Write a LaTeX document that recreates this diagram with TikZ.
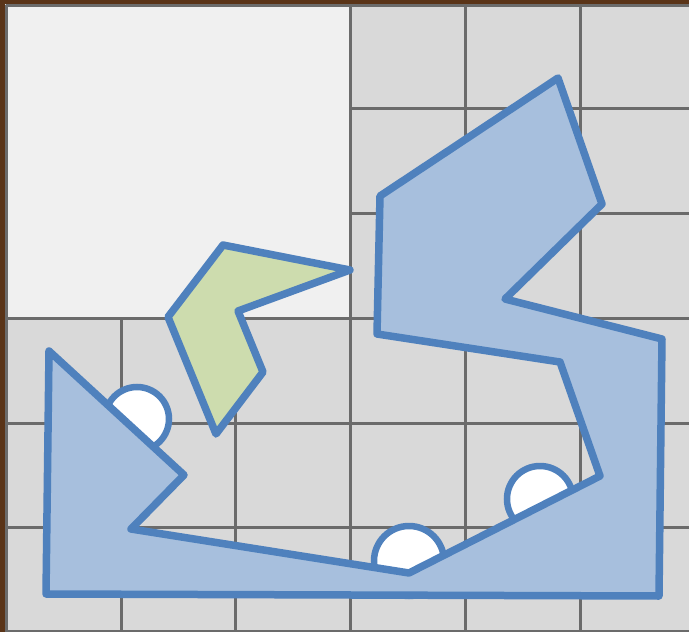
\documentclass[tikz,border=0pt]{standalone}
\definecolor{brownbg}{HTML}{5A3418}
\definecolor{cellgray}{HTML}{D9D9D9}
\definecolor{celllight}{HTML}{F0F0F0}
\definecolor{gridline}{HTML}{6B6B6B}
\definecolor{bluestroke}{HTML}{4F81BD}
\definecolor{bluefill}{HTML}{A7BFDD}
\definecolor{greenfill}{HTML}{CDDCAE}
\tikzset{
  gridl/.style={draw=gridline,line width=3pt},
  shapeA/.style={draw=bluestroke,line width=7.5pt,line join=round},
  hole/.style={draw=bluestroke,fill=white,line width=6.5pt}
}
\begin{document}
\begin{tikzpicture}[x=1pt,y=-1pt]
\useasboundingbox (0,0) rectangle (689,632);
\fill[brownbg] (0,0) rectangle (689,632);
\fill[cellgray] (5,4) rectangle (689,632);
\fill[celllight] (6,5) rectangle (350,318);
% grid lines
\draw[gridl] (6,5) -- (689,5);
\draw[gridl] (6,5) -- (6,632);
\draw[gridl] (350,5) -- (350,632);
\draw[gridl] (465,5) -- (465,632);
\draw[gridl] (580,5) -- (580,632);
\draw[gridl] (121,318) -- (121,632);
\draw[gridl] (235,318) -- (235,632);
\draw[gridl] (350,108) -- (689,108);
\draw[gridl] (350,213) -- (689,213);
\draw[gridl] (6,318) -- (689,318);
\draw[gridl] (6,423) -- (689,423);
\draw[gridl] (6,527) -- (689,527);
\draw[gridl] (6,631) -- (689,631);
% holes
\draw[hole] (137,419) circle (32);
\draw[hole] (409,561) circle (35);
\draw[hole] (540,499) circle (33);
% big blue polygon
\filldraw[shapeA,fill=bluefill] (558,78) -- (602,204) -- (505,299) -- (662,339) -- (659,596) -- (46,594) -- (49,351) -- (184,475) -- (131,529) -- (409,573) -- (600,476) -- (560,362) -- (377,334) -- (380,196) -- cycle;
% green polygon
\filldraw[shapeA,fill=greenfill] (223,245) -- (350,270) -- (238,311) -- (263,372) -- (216,434) -- (168,317) -- cycle;
\end{tikzpicture}
\end{document}
